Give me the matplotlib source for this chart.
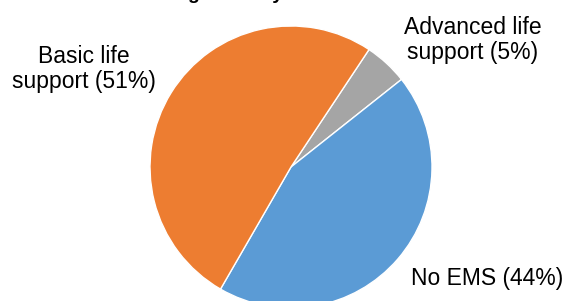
import matplotlib
matplotlib.use('Agg')
import matplotlib.pyplot as plt

plt.rcParams['font.family'] = ['Liberation Sans', 'DejaVu Sans']

# ── DATA ──────────────────────────────────────────────────────────────────────
categories = ['Advanced life support', 'No EMS', 'Basic life support']
shares     = [5, 44, 51]
colors     = ['#A5A5A5', '#5B9BD5', '#ED7D31']
label_text = ['Advanced life\nsupport (5%)', 'No EMS (44%)', 'Basic life\nsupport (51%)']
label_pos  = [(473, 40), (487, 279), (84, 69)]   # pixel positions (x, y from top)

W, H = 569, 301
fig = plt.figure(figsize=(W / 100, H / 100), dpi=100)

# pie centre ~ (291, 167) px, radius ~141 px
cx, cy, r = 291, 167, 141
ax = fig.add_axes([(cx - r) / W, (H - cy - r) / H, 2 * r / W, 2 * r / H])
ax.pie(shares, colors=colors, startangle=56.4, counterclock=False,
       wedgeprops=dict(edgecolor='white', linewidth=1))
ax.set_xlim(-1, 1)
ax.set_ylim(-1, 1)
ax.set_aspect('equal')
ax.axis('off')

for txt, (x, y) in zip(label_text, label_pos):
    fig.text(x / W, 1 - y / H, txt, ha='center', va='center',
             fontsize=16.5, linespacing=1.1, color='#000000')

# title sits mostly above the visible area in the reference
fig.text(125 / W, 1 + 1 / H, 'Arriving in ED by EMS level', ha='left',
         va='baseline', fontsize=14, fontweight='bold')

fig.savefig('out.png', dpi=100)
